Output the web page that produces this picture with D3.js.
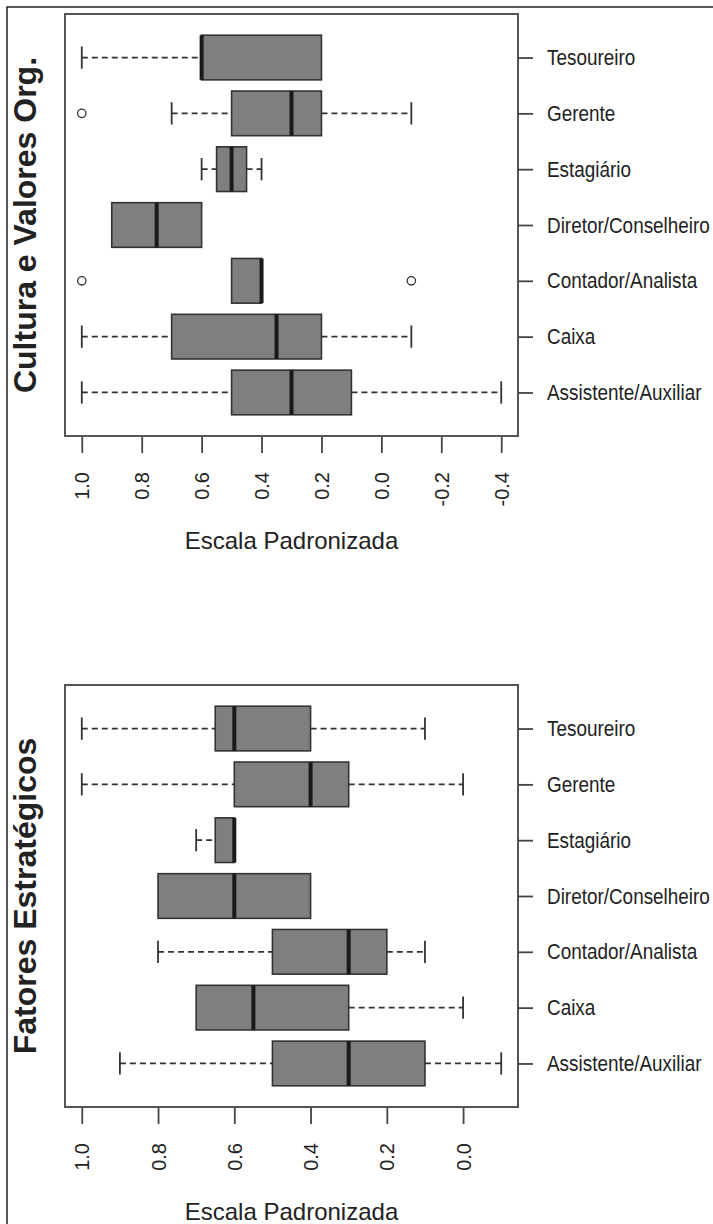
<!DOCTYPE html>
<html>
<head>
<meta charset="utf-8">
<script src="https://cdn.jsdelivr.net/npm/d3@7"></script>
<style>
  html, body { margin: 0; padding: 0; background: #fff; }
  svg { display: block; }
  text { font-family: "Liberation Sans", Arial, sans-serif; fill: #222; }
</style>
</head>
<body>
<svg id="chart" width="713" height="1224"></svg>
<script>
// --- DATA ---
// categories from bottom (position 1) to top (position 7)
const categories = ["Assistente/Auxiliar", "Caixa", "Contador/Analista", "Diretor/Conselheiro", "Estagiário", "Gerente", "Tesoureiro"];

// Cultura e Valores Org.
const cultWhiskerHigh = [1.0, 1.0, 0.5, 0.9, 0.6, 0.7, 1.0];
const cultQ3          = [0.5, 0.7, 0.5, 0.9, 0.55, 0.5, 0.6];
const cultMedian      = [0.3, 0.35, 0.4, 0.75, 0.5, 0.3, 0.6];
const cultQ1          = [0.1, 0.2, 0.4, 0.6, 0.45, 0.2, 0.2];
const cultWhiskerLow  = [-0.4, -0.1, 0.4, 0.6, 0.4, -0.1, 0.2];
const cultOutliers    = [[], [], [1.0, -0.1], [], [], [1.0], []];
const cultTicks       = [1.0, 0.8, 0.6, 0.4, 0.2, 0.0, -0.2, -0.4];

// Fatores Estratégicos
const fatWhiskerHigh = [0.9, 0.7, 0.8, 0.8, 0.7, 1.0, 1.0];
const fatQ3          = [0.5, 0.7, 0.5, 0.8, 0.65, 0.6, 0.65];
const fatMedian      = [0.3, 0.55, 0.3, 0.6, 0.6, 0.4, 0.6];
const fatQ1          = [0.1, 0.3, 0.2, 0.4, 0.6, 0.3, 0.4];
const fatWhiskerLow  = [-0.1, 0.0, 0.1, 0.4, 0.6, 0.0, 0.1];
const fatOutliers    = [[], [], [], [], [], [], []];
const fatTicks       = [1.0, 0.8, 0.6, 0.4, 0.2, 0.0];

const xLabel = "Escala Padronizada";

// --- SETUP ---
const svg = d3.select("#chart");
svg.append("rect").attr("width", 713).attr("height", 1224).attr("fill", "#fff");

// outer frame (top and left edges)
svg.append("path")
    .attr("d", "M7,1224V7H713")
    .attr("fill", "none").attr("stroke", "#222").attr("stroke-width", 1.5);

const plotLeft = 65, plotRight = 518;
const labelFont = "'Liberation Sans Narrow', 'Arial Narrow', 'Liberation Sans', Arial, sans-serif";

function drawPanel(top, title, hi, q3, med, q1, lo, outl, ticks) {
    const bottom = top + 422;
    const g = svg.append("g");

    // R-style 4% padding on data range
    const all = [].concat(hi, lo, ...outl);
    const [mn, mx] = d3.extent(all);
    const pad = (mx - mn) * 0.04;
    const x = d3.scaleLinear().domain([mx + pad, mn - pad]).range([plotLeft, plotRight]);
    const y = d3.scaleLinear().domain([0.22, 7.78]).range([bottom, top]);
    const half = (y(0) - y(0.4));
    const cap = half / 2;

    const rows = categories.map((c, i) => ({
        pos: i + 1, hi: hi[i], q3: q3[i], med: med[i], q1: q1[i], lo: lo[i], out: outl[i]
    }));

    const box = g.selectAll("g.box").data(rows).join("g").attr("class", "box");

    // whiskers (dashed)
    box.filter(d => d.hi > d.q3).append("line")
        .attr("x1", d => x(d.hi)).attr("x2", d => x(d.q3))
        .attr("y1", d => y(d.pos)).attr("y2", d => y(d.pos))
        .attr("stroke", "#333").attr("stroke-width", 1.8).attr("stroke-dasharray", "6,4");
    box.filter(d => d.lo < d.q1).append("line")
        .attr("x1", d => x(d.q1)).attr("x2", d => x(d.lo))
        .attr("y1", d => y(d.pos)).attr("y2", d => y(d.pos))
        .attr("stroke", "#333").attr("stroke-width", 1.8).attr("stroke-dasharray", "6,4");
    // staples
    box.filter(d => d.hi > d.q3).append("line")
        .attr("x1", d => x(d.hi)).attr("x2", d => x(d.hi))
        .attr("y1", d => y(d.pos) - cap).attr("y2", d => y(d.pos) + cap)
        .attr("stroke", "#333").attr("stroke-width", 1.8);
    box.filter(d => d.lo < d.q1).append("line")
        .attr("x1", d => x(d.lo)).attr("x2", d => x(d.lo))
        .attr("y1", d => y(d.pos) - cap).attr("y2", d => y(d.pos) + cap)
        .attr("stroke", "#333").attr("stroke-width", 1.8);

    // box
    box.append("rect")
        .attr("x", d => x(d.q3)).attr("width", d => x(d.q1) - x(d.q3))
        .attr("y", d => y(d.pos) - half).attr("height", 2 * half)
        .attr("fill", "#7f7f81").attr("stroke", "#333").attr("stroke-width", 1.6);

    // median
    box.append("line")
        .attr("x1", d => x(d.med)).attr("x2", d => x(d.med))
        .attr("y1", d => y(d.pos) - half).attr("y2", d => y(d.pos) + half)
        .attr("stroke", "#1a1a1a").attr("stroke-width", 4);

    // outliers
    box.selectAll("circle")
        .data(d => d.out.map(v => ({ v, pos: d.pos })))
        .join("circle")
        .attr("cx", d => x(d.v)).attr("cy", d => y(d.pos)).attr("r", 4.2)
        .attr("fill", "none").attr("stroke", "#333").attr("stroke-width", 1.3);

    // plot frame
    g.append("rect")
        .attr("x", plotLeft).attr("y", top)
        .attr("width", plotRight - plotLeft).attr("height", bottom - top)
        .attr("fill", "none").attr("stroke", "#555").attr("stroke-width", 2);

    // bottom axis
    const xa = g.append("g")
        .attr("transform", `translate(0,${bottom + 1})`)
        .call(d3.axisBottom(x).tickValues(ticks).tickSize(16).tickFormat(v => v.toFixed(1)));
    xa.select(".domain").remove();
    xa.selectAll(".tick line").attr("stroke", "#444").attr("stroke-width", 1.8);
    xa.selectAll(".tick text")
        .attr("x", 0).attr("y", 0).attr("dy", null)
        .attr("transform", "translate(7,35) rotate(-90)")
        .attr("text-anchor", "end")
        .style("font-size", "20px").style("font-family", "'Liberation Sans', Arial, sans-serif")
        .attr("fill", "#222");

    // right axis
    const ya = g.append("g")
        .attr("transform", `translate(${plotRight},0)`)
        .call(d3.axisRight(y).tickValues(d3.range(1, 8)).tickSize(15).tickPadding(14)
            .tickFormat(p => categories[p - 1]));
    ya.select(".domain").remove();
    ya.selectAll(".tick line").attr("stroke", "#444").attr("stroke-width", 1.8);
    const yt = ya.selectAll(".tick text")
        .style("font-size", "22px").style("font-family", labelFont)
        .attr("fill", "#222");
    // fit the widest label to the width seen in the reference (~163px)
    const widest = d3.max(yt.nodes(), n => n.getComputedTextLength());
    const k = Math.min(1, 163 / widest);
    yt.attr("x", null).attr("transform", `translate(29,0) scale(${k},1)`);

    // x label
    g.append("text")
        .attr("x", (plotLeft + plotRight) / 2).attr("y", bottom + 113)
        .attr("text-anchor", "middle")
        .style("font-size", "24px")
        .text(xLabel);

    // panel title (left, rotated)
    g.append("text")
        .attr("transform", `translate(36,${(top + bottom) / 2}) rotate(-90)`)
        .attr("text-anchor", "middle")
        .style("font-size", "32px").style("font-weight", "bold")
        .attr("fill", "#1a1a1a")
        .text(title);
}

drawPanel(14, "Cultura e Valores Org.", cultWhiskerHigh, cultQ3, cultMedian, cultQ1, cultWhiskerLow, cultOutliers, cultTicks);
drawPanel(685, "Fatores Estratégicos", fatWhiskerHigh, fatQ3, fatMedian, fatQ1, fatWhiskerLow, fatOutliers, fatTicks);
</script>
</body>
</html>
